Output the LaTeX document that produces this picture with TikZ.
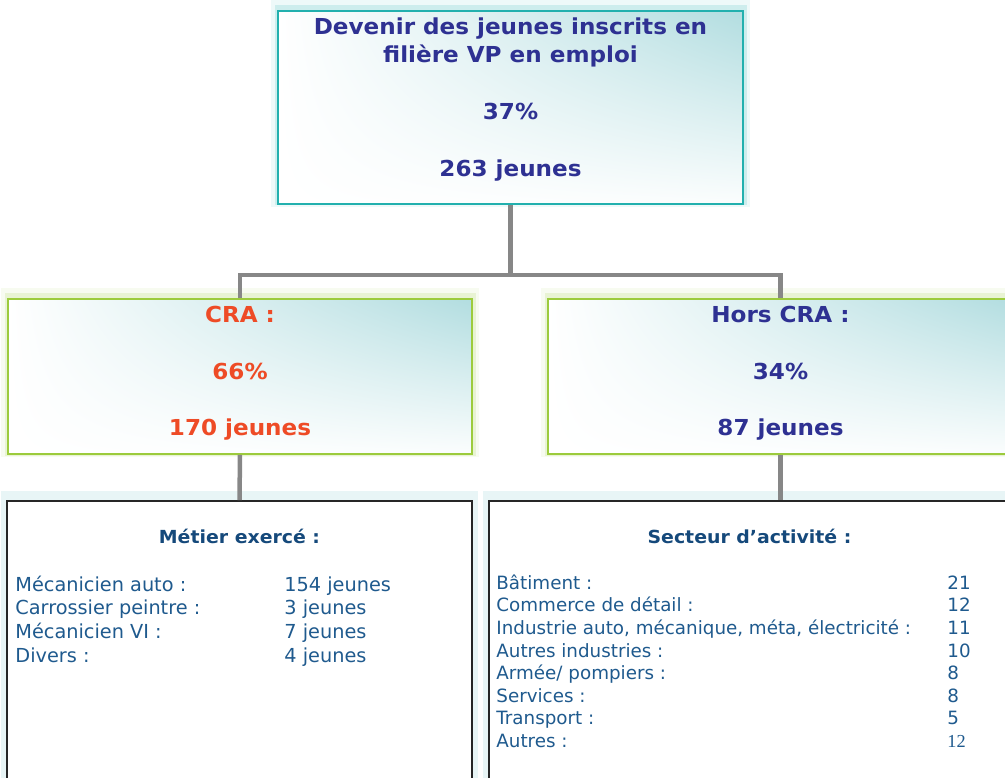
\documentclass[tikz,border=0pt]{standalone}
\usepackage{fontspec}
\setmainfont{DejaVu Sans}[BoldFeatures={FakeStretch=1.05}]
\newfontfamily\numserif{Liberation Serif}
\usetikzlibrary{positioning,calc,shadows,shadings}
\definecolor{navy}{HTML}{2E3192}
\definecolor{craorange}{HTML}{EE4B26}
\definecolor{listblue}{HTML}{1F5A8E}
\definecolor{headblue}{HTML}{15497B}
\definecolor{tealedge}{HTML}{22B0AE}
\definecolor{limeedge}{HTML}{9CCB3C}
\definecolor{tealtint}{HTML}{B2DDE0}
\definecolor{linegray}{HTML}{878787}
\tikzset{
  glowbox/.style={rectangle, draw=#1, line width=1.6pt, inner sep=0pt,
                  upper left=white, lower left=white, upper right=tealtint, lower right=white!95!tealtint,
                  general shadow={shadow yshift=4pt, draw=#1, line width=14pt, opacity=0.08},
                  general shadow={shadow yshift=2pt, draw=#1, line width=7pt, opacity=0.16}},
  listbox/.style={rectangle, draw=black!85, line width=1.6pt, fill=white, inner sep=0pt,
                  general shadow={shadow yshift=4pt, draw=tealtint, line width=12pt, opacity=0.3}},
  conn/.style={draw=linegray, line width=4.5pt},
  big/.style={font=\fontsize{22}{26}\bfseries, inner sep=0pt},
  head/.style={font=\fontsize{18}{22}\bfseries, text=headblue, inner sep=0pt},
  item/.style={font=\fontsize{19.3}{23}\selectfont, text=listblue, anchor=base west, inner sep=0pt},
}
\begin{document}
\begin{tikzpicture}[x=1pt, y=-1pt]
\useasboundingbox (0,0) rectangle (1005,778);
\clip (0,0) rectangle (1005,778);

% boxes
\node[glowbox=tealedge, minimum width=465pt, minimum height=193pt] (devenir) at (510.5,107.5) {};
\node[glowbox=limeedge, minimum width=464pt, minimum height=155pt] (cra) at (240,376.5) {};
\node[glowbox=limeedge, minimum width=465pt, minimum height=155pt] (hors) at (780.5,376.5) {};
\node[listbox, minimum width=465pt, minimum height=300pt] (metier) at (239.5,651) {};
\node[listbox, minimum width=521pt, minimum height=300pt] (secteur) at (749.5,651) {};

% connectors
\coordinate (split) at (510.5,275);
\draw[conn] (devenir.south) -- (split);
\draw[conn] (cra.north) |- (split) -| (hors.north);
\draw[conn] (cra.south) -- (metier.north);
\draw[conn] (hors.south) -- (hors.south |- secteur.north);

% top box
\node[big, text=navy, below=24pt of devenir.north, anchor=base] (devl1) {Devenir des jeunes inscrits en};
\node[big, text=navy, below=52pt of devenir.north, anchor=base] (devl2) {filière VP en emploi};
\node[big, text=navy, below=109pt of devenir.north, anchor=base] (devpct) {37\%};
\node[big, text=navy, below=166pt of devenir.north, anchor=base] (devnb) {263 jeunes};

% middle boxes
\node[big, text=craorange, below=24pt of cra.north, anchor=base] (cral1) {CRA :};
\node[big, text=craorange, below=81pt of cra.north, anchor=base] (crapct) {66\%};
\node[big, text=craorange, below=137pt of cra.north, anchor=base] (cranb) {170 jeunes};
\node[big, text=navy, below=24pt of hors.north, anchor=base] (horsl1) {Hors CRA :};
\node[big, text=navy, below=81pt of hors.north, anchor=base] (horspct) {34\%};
\node[big, text=navy, below=137pt of hors.north, anchor=base] (horsnb) {87 jeunes};

% lists
\node[head, below=43pt of metier.north, anchor=base] (metierhd) {Métier exercé :};
\foreach \lab/\val [count=\i] in {Mécanicien auto :/154 jeunes, Carrossier peintre :/3 jeunes,
    Mécanicien VI :/7 jeunes, Divers :/4 jeunes}{
  \node[item] (mlab\i) at ($(metier.north west)+(9,{91+(\i-1)*23.7})$) {\lab};
  \node[item] (mval\i) at ($(metier.north west)+(278,{91+(\i-1)*23.7})$) {\val};
}
\node[head, below=43pt of secteur.north, anchor=base] (secteurhd) {Secteur d’activité :};
\foreach \lab/\val [count=\i] in {Bâtiment :/21, Commerce de détail :/12,
    {Industrie auto, mécanique, méta, électricité :}/11, Autres industries :/10,
    {Armée/ pompiers :}/8, Services :/8, Transport :/5, Autres :/{\numserif 12}}{
  \node[item, font=\fontsize{18.3}{22}\selectfont] (slab\i) at ($(secteur.north west)+(8,{89+(\i-1)*22.6})$) {\lab};
  \node[item, font=\fontsize{18.3}{22}\selectfont] (sval\i) at ($(secteur.north west)+(459,{89+(\i-1)*22.6})$) {\val};
}
\end{tikzpicture}
\end{document}
